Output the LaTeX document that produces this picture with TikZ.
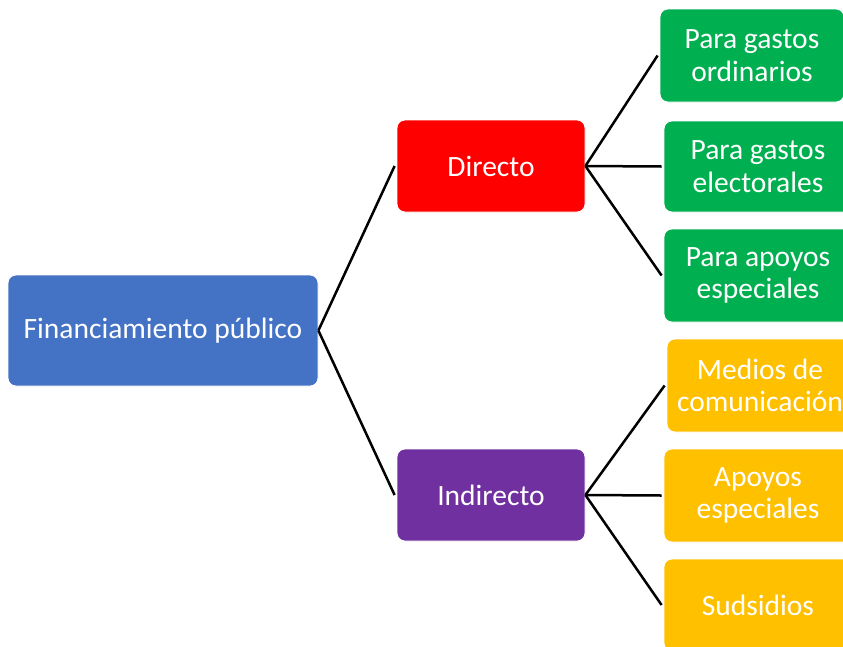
\documentclass[tikz,border=0pt]{standalone}
\usepackage{fontspec}
\setmainfont{Carlito}
\definecolor{cblue}{HTML}{4472C4}
\definecolor{cred}{HTML}{FF0000}
\definecolor{cpurple}{HTML}{7030A0}
\definecolor{cgreen}{HTML}{00B050}
\definecolor{cyellow}{HTML}{FFC000}
\tikzset{
  box/.style={rounded corners=8pt, draw=white, line width=0.8pt, text=white, align=center,
    inner sep=0pt, font=\fontsize{29.5}{32.5}\selectfont},
  link/.style={draw=black, line width=2.5pt}
}
\begin{document}
\begin{tikzpicture}[x=1pt,y=-1pt]
\useasboundingbox (0,0) rectangle (843,646);
\clip (0,0) rectangle (843,646);
\node[box, fill=cblue, minimum width=310pt, minimum height=111pt] (F) at (163,330.5) {Financiamiento público};
\node[box, fill=cred, minimum width=188pt, minimum height=92pt] (D) at (491,166) {Directo};
\node[box, fill=cpurple, minimum width=188pt, minimum height=92pt] (I) at (491,495) {Indirecto};
\node[box, fill=cgreen, minimum width=184pt, minimum height=93pt] (G1) at (752,55.5) {Para gastos\\ordinarios};
\node[box, fill=cgreen, minimum width=188pt, minimum height=91pt] (G2) at (758,166.5) {Para gastos\\electorales};
\node[box, fill=cgreen, minimum width=188pt, minimum height=93pt] (G3) at (758,275.5) {Para apoyos\\especiales};
\node[box, fill=cyellow, minimum width=186pt, minimum height=93pt] (Y1) at (760,385.5) {Medios de\\comunicación};
\node[box, fill=cyellow, minimum width=188pt, minimum height=93pt] (Y2) at (758,495.5) {Apoyos\\especiales};
\node[box, fill=cyellow, minimum width=188pt, minimum height=92pt] (Y3) at (758,605) {Sudsidios};
\draw[link] (F.east) -- ([xshift=-2pt]D.west);
\draw[link] (F.east) -- ([xshift=-2pt]I.west);
\draw[link] (D.east) -- ([xshift=-2pt]G1.west);
\draw[link] (D.east) -- ([xshift=-2pt]G2.west);
\draw[link] (D.east) -- ([xshift=-2pt]G3.west);
\draw[link] (I.east) -- ([xshift=-2pt]Y1.west);
\draw[link] (I.east) -- ([xshift=-2pt]Y2.west);
\draw[link] (I.east) -- ([xshift=-2pt]Y3.west);
\end{tikzpicture}
\end{document}
